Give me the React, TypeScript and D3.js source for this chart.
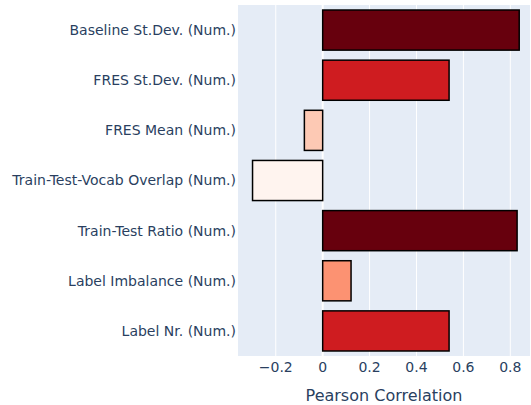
import React from "react";
import * as d3 from "d3";

const categories = [
  "Baseline St.Dev. (Num.)",
  "FRES St.Dev. (Num.)",
  "FRES Mean (Num.)",
  "Train-Test-Vocab Overlap (Num.)",
  "Train-Test Ratio (Num.)",
  "Label Imbalance (Num.)",
  "Label Nr. (Num.)",
];
const values = [0.838, 0.539, -0.078, -0.299, 0.829, 0.121, 0.539];
const colors = ["#67000d", "#cf1c20", "#fdc9b4", "#fff4ef", "#67000d", "#fc9272", "#cf1c20"];
const xTicks = [-0.2, 0, 0.2, 0.4, 0.6, 0.8];
const xTitle = "Pearson Correlation";

const W = 531, H = 405;
const M = { left: 238, right: 530, top: 5, bottom: 356 };

export default function App() {
  const x = d3.scaleLinear().domain([-0.361, 0.884]).range([M.left, M.right]);
  const y = d3.scaleBand().domain(categories).range([M.top, M.bottom]).paddingInner(0.2).paddingOuter(0.1);
  const font = '"DejaVu Sans", verdana, arial, sans-serif';
  const fmt = (v: number) => (v === 0 ? "0" : v < 0 ? "\u2212" + Math.abs(v).toFixed(1) : v.toFixed(1));
  return (
    <svg width={W} height={H} style={{ position: "absolute", left: 0, top: 0 }} fontFamily={font}>
      <rect x={M.left} y={M.top} width={M.right - M.left} height={M.bottom - M.top} fill="#e5ecf6" />
      {xTicks.map((t) => (
        <line key={t} x1={x(t)} x2={x(t)} y1={M.top} y2={M.bottom} stroke="#ffffff" strokeWidth={t === 0 ? 2 : 1} />
      ))}
      {categories.map((c, i) => {
        const v = values[i];
        const x0 = x(Math.min(0, v));
        const x1 = x(Math.max(0, v));
        return (
          <rect key={c} x={x0} y={y(c)!} width={x1 - x0} height={y.bandwidth()} fill={colors[i]} stroke="#000" strokeWidth={1.5} />
        );
      })}
      {categories.map((c) => (
        <text key={c} x={M.left - 2} y={y(c)! + y.bandwidth() / 2} dy="0.35em" textAnchor="end" fontSize={14} fill="#2a3f5f">
          {c}
        </text>
      ))}
      {xTicks.map((t) => (
        <text key={t} x={x(t)} y={367} dy="0.35em" textAnchor="middle" fontSize={14} fill="#2a3f5f">
          {fmt(t)}
        </text>
      ))}
      <text x={(M.left + M.right) / 2} y={395} dy="0.35em" textAnchor="middle" fontSize={16} fill="#2a3f5f">
        {xTitle}
      </text>
    </svg>
  );
}
